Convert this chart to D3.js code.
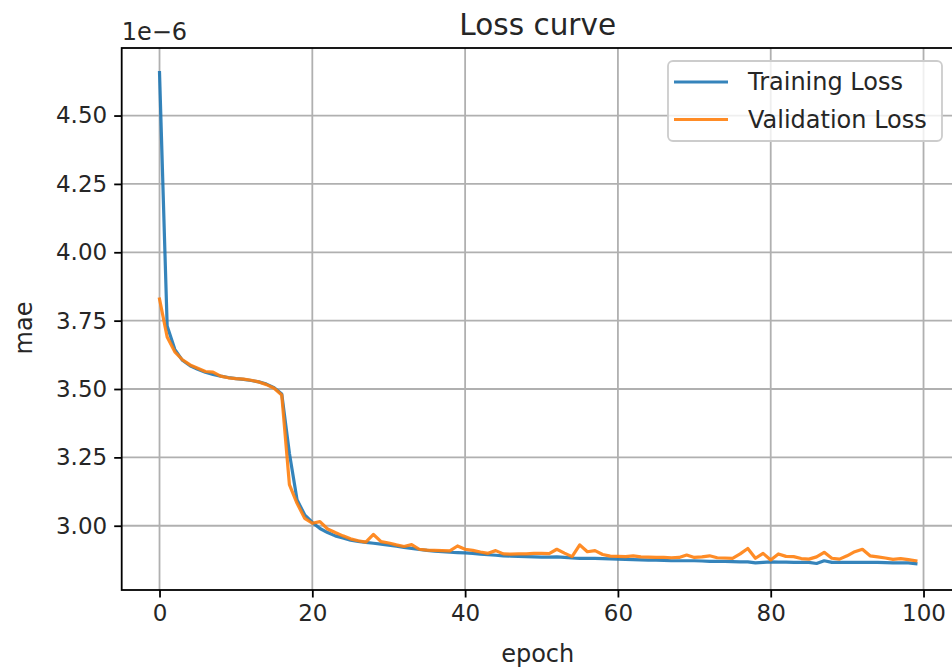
<!DOCTYPE html>
<html>
<head>
<meta charset="utf-8">
<script src="https://cdn.jsdelivr.net/npm/d3@7"></script>
<style>
  body { margin: 0; background: #fff; }
  text { font-family: "DejaVu Sans", sans-serif; fill: #262626; }
</style>
</head>
<body>
<div class="chart"></div>
<script>
// values are in units of 1e-6 (shown as offset text on the y axis)
var epochs = d3.range(0, 100);
var trainingLoss = [
    4.657, 3.730, 3.645, 3.605, 3.585, 3.572, 3.561, 3.553, 3.547, 3.542,
    3.538, 3.535, 3.531, 3.526, 3.518, 3.505, 3.482, 3.265, 3.095, 3.040,
    3.012, 2.990, 2.975, 2.963, 2.955, 2.947, 2.943, 2.939, 2.936, 2.933,
    2.929, 2.925, 2.921, 2.917, 2.913, 2.910, 2.907, 2.905, 2.903, 2.902,
    2.901, 2.899, 2.896, 2.894, 2.892, 2.890, 2.889, 2.888, 2.887, 2.886,
    2.885, 2.885, 2.886, 2.884, 2.882, 2.881, 2.881, 2.881, 2.880, 2.879,
    2.878, 2.877, 2.876, 2.875, 2.874, 2.874, 2.873, 2.872, 2.872, 2.872,
    2.872, 2.871, 2.870, 2.870, 2.870, 2.869, 2.868, 2.868, 2.864, 2.866,
    2.868, 2.867, 2.867, 2.866, 2.866, 2.866, 2.862, 2.872, 2.866, 2.866,
    2.866, 2.866, 2.866, 2.866, 2.866, 2.865, 2.864, 2.864, 2.864, 2.861
];
var validationLoss = [
    3.829, 3.690, 3.636, 3.607, 3.588, 3.576, 3.564, 3.562, 3.547, 3.541,
    3.538, 3.536, 3.532, 3.526, 3.516, 3.503, 3.478, 3.150, 3.082, 3.027,
    3.009, 3.015, 2.988, 2.975, 2.963, 2.952, 2.945, 2.940, 2.968, 2.942,
    2.937, 2.930, 2.924, 2.931, 2.914, 2.911, 2.910, 2.909, 2.908, 2.926,
    2.914, 2.910, 2.904, 2.899, 2.909, 2.897, 2.896, 2.897, 2.897, 2.899,
    2.899, 2.898, 2.914, 2.900, 2.887, 2.930, 2.905, 2.909, 2.895, 2.889,
    2.888, 2.887, 2.890, 2.886, 2.885, 2.884, 2.884, 2.883, 2.884, 2.893,
    2.884, 2.886, 2.890, 2.883, 2.882, 2.881, 2.897, 2.917, 2.881, 2.899,
    2.875, 2.897, 2.888, 2.887, 2.880, 2.878, 2.886, 2.903, 2.881, 2.878,
    2.890, 2.905, 2.914, 2.890, 2.886, 2.882, 2.877, 2.880, 2.876, 2.872
];
var xTicks = [0, 20, 40, 60, 80, 100];
var yTicks = [3.00, 3.25, 3.50, 3.75, 4.00, 4.25, 4.50];
var seriesNames = ["Training Loss", "Validation Loss"];
var seriesColors = ["#1f77b4", "#ff7f0e"];

var Chart = {
    width: 952,
    height: 670,
    left: 121.7,
    right: 953.7,
    top: 48,
    bottom: 590,
    fontSize: 23,
    labelSize: 24,
    titleSize: 29.5,
    xDomain: [-4.95, 103.95],
    yDomain: [2.765, 4.747],
    svg: null,
    x: null,
    y: null,
    init: function () {
        this.svg = d3.select(".chart").append("svg")
            .attr("width", this.width)
            .attr("height", this.height);
        this.x = d3.scaleLinear().domain(this.xDomain).range([this.left, this.right]);
        this.y = d3.scaleLinear().domain(this.yDomain).range([this.bottom, this.top]);

        this.drawGrid()
            .drawLines()
            .drawAxes()
            .drawLabels()
            .drawLegend();
    },
    drawGrid: function () {
        var g = this.svg.append("g");
        g.selectAll(".gx").data(xTicks).enter().append("line")
            .attr("x1", this.x).attr("x2", this.x)
            .attr("y1", this.top).attr("y2", this.bottom)
            .attr("stroke", "#b0b0b0").attr("stroke-width", 1.8);
        g.selectAll(".gy").data(yTicks).enter().append("line")
            .attr("y1", this.y).attr("y2", this.y)
            .attr("x1", this.left).attr("x2", this.right)
            .attr("stroke", "#b0b0b0").attr("stroke-width", 1.8);
        return this;
    },
    drawLines: function () {
        var self = this;
        var series = [trainingLoss, validationLoss];
        var line = d3.line()
            .x(function (d, i) { return self.x(epochs[i]); })
            .y(function (d) { return self.y(d); });

        this.svg.selectAll(".series").data(series).enter().append("path")
            .attr("d", line)
            .attr("fill", "none")
            .attr("stroke", function (d, i) { return seriesColors[i]; })
            .attr("stroke-width", 3.2)
            .attr("stroke-opacity", 0.9)
            .attr("stroke-linejoin", "round")
            .attr("stroke-linecap", "square");
        return this;
    },
    drawAxes: function () {
        var xAxis = d3.axisBottom(this.x).tickValues(xTicks)
            .tickSize(7.5).tickPadding(7).tickFormat(d3.format("d"));
        var yAxis = d3.axisLeft(this.y).tickValues(yTicks)
            .tickSize(7.5).tickPadding(7).tickFormat(d3.format(".2f"));

        var gx = this.svg.append("g")
            .attr("transform", "translate(0," + this.bottom + ")")
            .call(xAxis);
        var gy = this.svg.append("g")
            .attr("transform", "translate(" + this.left + ",0)")
            .call(yAxis);

        [gx, gy].forEach(function (g) {
            g.select(".domain").remove();
            g.selectAll(".tick line").attr("stroke", "#000").attr("stroke-width", 1.8);
            g.selectAll(".tick text")
                .attr("fill", "#262626")
                .style("font-size", Chart.fontSize + "px")
                .style("font-family", "DejaVu Sans");
        });

        // spines
        this.svg.append("rect")
            .attr("x", this.left).attr("y", this.top)
            .attr("width", this.right - this.left)
            .attr("height", this.bottom - this.top)
            .attr("fill", "none")
            .attr("stroke", "#000")
            .attr("stroke-width", 1.8);
        return this;
    },
    drawLabels: function () {
        var cx = (this.left + this.right) / 2;
        this.svg.append("text")
            .attr("x", cx).attr("y", 35)
            .attr("text-anchor", "middle")
            .style("font-size", this.titleSize + "px")
            .text("Loss curve");
        this.svg.append("text")
            .attr("x", cx).attr("y", 662)
            .attr("text-anchor", "middle")
            .style("font-size", this.labelSize + "px")
            .text("epoch");
        this.svg.append("text")
            .attr("transform", "translate(32,328) rotate(-90)")
            .attr("text-anchor", "middle")
            .style("font-size", this.labelSize + "px")
            .text("mae");
        this.svg.append("text")
            .attr("x", this.left).attr("y", 40)
            .style("font-size", this.labelSize + "px")
            .text("1e\u22126");
        return this;
    },
    drawLegend: function () {
        var g = this.svg.append("g").attr("transform", "translate(668,61)");
        g.append("rect")
            .attr("width", 274).attr("height", 80)
            .attr("rx", 5).attr("ry", 5)
            .attr("fill", "#fff").attr("fill-opacity", 0.8)
            .attr("stroke", "#cccccc").attr("stroke-width", 1.8);
        var item = g.selectAll(".item").data(seriesNames).enter().append("g")
            .attr("transform", function (d, i) { return "translate(0," + (21 + i * 37.5) + ")"; });
        item.append("line")
            .attr("x1", 6).attr("x2", 60)
            .attr("stroke", function (d, i) { return seriesColors[i]; })
            .attr("stroke-width", 3.2)
            .attr("stroke-opacity", 0.9);
        item.append("text")
            .attr("x", 80).attr("dy", "0.35em")
            .style("font-size", this.labelSize + "px")
            .text(function (d) { return d; });
        return this;
    }
};

Chart.init();
</script>
</body>
</html>
